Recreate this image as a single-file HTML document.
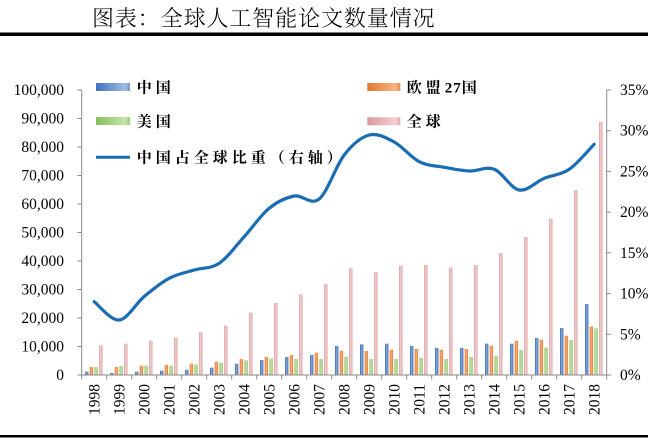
<!DOCTYPE html>
<html><head><meta charset="utf-8"><style>
html,body{margin:0;padding:0;background:#fff;}
svg{display:block;}
.ax{font-family:"Liberation Serif",serif;font-size:15.5px;fill:#000;}
.lg{font-family:"Liberation Serif","Noto Serif CJK SC",serif;font-size:15px;font-weight:700;letter-spacing:4px;fill:#000;}
.tt{font-family:"Noto Serif CJK SC","Noto Sans CJK SC",serif;font-size:22px;font-weight:300;letter-spacing:0.9px;fill:#000;}
</style></head><body>
<svg width="648" height="438" viewBox="0 0 648 438" xmlns="http://www.w3.org/2000/svg">
<defs>
<linearGradient id="gb" x1="0" x2="1" y1="0" y2="0"><stop offset="0" stop-color="#3a6cb4"/><stop offset="0.5" stop-color="#86a8da"/><stop offset="1" stop-color="#3a6cb4"/></linearGradient>
<linearGradient id="go" x1="0" x2="1" y1="0" y2="0"><stop offset="0" stop-color="#e07a36"/><stop offset="0.5" stop-color="#f8ad78"/><stop offset="1" stop-color="#e07a36"/></linearGradient>
<linearGradient id="gg" x1="0" x2="1" y1="0" y2="0"><stop offset="0" stop-color="#8cc265"/><stop offset="0.5" stop-color="#c4e3ad"/><stop offset="1" stop-color="#8cc265"/></linearGradient>
<linearGradient id="gp" x1="0" x2="1" y1="0" y2="0"><stop offset="0" stop-color="#d8979a"/><stop offset="0.5" stop-color="#f4d4d4"/><stop offset="1" stop-color="#d8979a"/></linearGradient>
<linearGradient id="lb" x1="0" x2="1" y1="0" y2="0"><stop offset="0" stop-color="#3d72c0"/><stop offset="0.65" stop-color="#8aa9d9"/><stop offset="0.85" stop-color="#a3bce2"/><stop offset="1" stop-color="#7497cf"/></linearGradient>
<linearGradient id="lo" x1="0" x2="1" y1="0" y2="0"><stop offset="0" stop-color="#e27a34"/><stop offset="0.65" stop-color="#f4a46c"/><stop offset="0.85" stop-color="#f6b587"/><stop offset="1" stop-color="#ea8a4c"/></linearGradient>
<linearGradient id="lg" x1="0" x2="1" y1="0" y2="0"><stop offset="0" stop-color="#86c05d"/><stop offset="0.65" stop-color="#b3da97"/><stop offset="0.85" stop-color="#c4e2ad"/><stop offset="1" stop-color="#9ccd79"/></linearGradient>
<linearGradient id="lp" x1="0" x2="1" y1="0" y2="0"><stop offset="0" stop-color="#d9999b"/><stop offset="0.65" stop-color="#ecc2c3"/><stop offset="0.85" stop-color="#f2d2d2"/><stop offset="1" stop-color="#e0abac"/></linearGradient>
</defs>

<!-- title -->
<text class="tt" x="92" y="26">图表：全球人工智能论文数量情况</text>
<rect x="0" y="32.5" width="648" height="3.5" fill="#000"/>
<rect x="0" y="435" width="648" height="2.5" fill="#000"/>

<!-- bars -->
<g transform="translate(0,375) scale(1,-1)">
<g transform="translate(0,0)"><rect x="85" y="0" width="3.4" height="3.33" fill="url(#gb)"/><rect x="89.7" y="0" width="3.4" height="7.98" fill="url(#go)"/><rect x="94.4" y="0" width="3.4" height="7.98" fill="url(#gg)"/><rect x="99.1" y="0" width="3.4" height="29.64" fill="url(#gp)"/></g>
<g transform="translate(25,0)"><rect x="85" y="0" width="3.4" height="2" fill="url(#gb)"/><rect x="89.7" y="0" width="3.4" height="7.98" fill="url(#go)"/><rect x="94.4" y="0" width="3.4" height="9.01" fill="url(#gg)"/><rect x="99.1" y="0" width="3.4" height="31.35" fill="url(#gp)"/></g>
<g transform="translate(50,0)"><rect x="85" y="0" width="3.4" height="3.33" fill="url(#gb)"/><rect x="89.7" y="0" width="3.4" height="9.35" fill="url(#go)"/><rect x="94.4" y="0" width="3.4" height="9.35" fill="url(#gg)"/><rect x="99.1" y="0" width="3.4" height="34.34" fill="url(#gp)"/></g>
<g transform="translate(75,0)"><rect x="85" y="0" width="3.4" height="4.33" fill="url(#gb)"/><rect x="89.7" y="0" width="3.4" height="9.98" fill="url(#go)"/><rect x="94.4" y="0" width="3.4" height="9.35" fill="url(#gg)"/><rect x="99.1" y="0" width="3.4" height="37.34" fill="url(#gp)"/></g>
<g transform="translate(100,0)"><rect x="85" y="0" width="3.4" height="5.33" fill="url(#gb)"/><rect x="89.7" y="0" width="3.4" height="11.34" fill="url(#go)"/><rect x="94.4" y="0" width="3.4" height="10.35" fill="url(#gg)"/><rect x="99.1" y="0" width="3.4" height="43.04" fill="url(#gp)"/></g>
<g transform="translate(125,0)"><rect x="85" y="0" width="3.4" height="7.32" fill="url(#gb)"/><rect x="89.7" y="0" width="3.4" height="13.34" fill="url(#go)"/><rect x="94.4" y="0" width="3.4" height="12.34" fill="url(#gg)"/><rect x="99.1" y="0" width="3.4" height="49.31" fill="url(#gp)"/></g>
<g transform="translate(150,0)"><rect x="85" y="0" width="3.4" height="11.34" fill="url(#gb)"/><rect x="89.7" y="0" width="3.4" height="15.96" fill="url(#go)"/><rect x="94.4" y="0" width="3.4" height="14.68" fill="url(#gg)"/><rect x="99.1" y="0" width="3.4" height="62.42" fill="url(#gp)"/></g>
<g transform="translate(175,0)"><rect x="85" y="0" width="3.4" height="14.99" fill="url(#gb)"/><rect x="89.7" y="0" width="3.4" height="17.96" fill="url(#go)"/><rect x="94.4" y="0" width="3.4" height="16.33" fill="url(#gg)"/><rect x="99.1" y="0" width="3.4" height="72.11" fill="url(#gp)"/></g>
<g transform="translate(200,0)"><rect x="85" y="0" width="3.4" height="18.01" fill="url(#gb)"/><rect x="89.7" y="0" width="3.4" height="20.01" fill="url(#go)"/><rect x="94.4" y="0" width="3.4" height="15.99" fill="url(#gg)"/><rect x="99.1" y="0" width="3.4" height="80.65" fill="url(#gp)"/></g>
<g transform="translate(225,0)"><rect x="85" y="0" width="3.4" height="20.01" fill="url(#gb)"/><rect x="89.7" y="0" width="3.4" height="22.34" fill="url(#go)"/><rect x="94.4" y="0" width="3.4" height="15.99" fill="url(#gg)"/><rect x="99.1" y="0" width="3.4" height="90.92" fill="url(#gp)"/></g>
<g transform="translate(250,0)"><rect x="85" y="0" width="3.4" height="29.01" fill="url(#gb)"/><rect x="89.7" y="0" width="3.4" height="24.34" fill="url(#go)"/><rect x="94.4" y="0" width="3.4" height="18.01" fill="url(#gg)"/><rect x="99.1" y="0" width="3.4" height="106.88" fill="url(#gp)"/></g>
<g transform="translate(275,0)"><rect x="85" y="0" width="3.4" height="30.67" fill="url(#gb)"/><rect x="89.7" y="0" width="3.4" height="24.0" fill="url(#go)"/><rect x="94.4" y="0" width="3.4" height="15.99" fill="url(#gg)"/><rect x="99.1" y="0" width="3.4" height="102.89" fill="url(#gp)"/></g>
<g transform="translate(300,0)"><rect x="85" y="0" width="3.4" height="31.35" fill="url(#gb)"/><rect x="89.7" y="0" width="3.4" height="25.34" fill="url(#go)"/><rect x="94.4" y="0" width="3.4" height="15.99" fill="url(#gg)"/><rect x="99.1" y="0" width="3.4" height="109.44" fill="url(#gp)"/></g>
<g transform="translate(325,0)"><rect x="85" y="0" width="3.4" height="29.01" fill="url(#gb)"/><rect x="89.7" y="0" width="3.4" height="26.02" fill="url(#go)"/><rect x="94.4" y="0" width="3.4" height="17.33" fill="url(#gg)"/><rect x="99.1" y="0" width="3.4" height="110.01" fill="url(#gp)"/></g>
<g transform="translate(350,0)"><rect x="85" y="0" width="3.4" height="27.02" fill="url(#gb)"/><rect x="89.7" y="0" width="3.4" height="25.34" fill="url(#go)"/><rect x="94.4" y="0" width="3.4" height="15.99" fill="url(#gg)"/><rect x="99.1" y="0" width="3.4" height="107.45" fill="url(#gp)"/></g>
<g transform="translate(375,0)"><rect x="85" y="0" width="3.4" height="27.02" fill="url(#gb)"/><rect x="89.7" y="0" width="3.4" height="26.02" fill="url(#go)"/><rect x="94.4" y="0" width="3.4" height="18.01" fill="url(#gg)"/><rect x="99.1" y="0" width="3.4" height="110.01" fill="url(#gp)"/></g>
<g transform="translate(400,0)"><rect x="85" y="0" width="3.4" height="31.35" fill="url(#gb)"/><rect x="89.7" y="0" width="3.4" height="29.36" fill="url(#go)"/><rect x="94.4" y="0" width="3.4" height="19.35" fill="url(#gg)"/><rect x="99.1" y="0" width="3.4" height="121.98" fill="url(#gp)"/></g>
<g transform="translate(425,0)"><rect x="85" y="0" width="3.4" height="31.35" fill="url(#gb)"/><rect x="89.7" y="0" width="3.4" height="34.34" fill="url(#go)"/><rect x="94.4" y="0" width="3.4" height="25.0" fill="url(#gg)"/><rect x="99.1" y="0" width="3.4" height="137.94" fill="url(#gp)"/></g>
<g transform="translate(450,0)"><rect x="85" y="0" width="3.4" height="37.02" fill="url(#gb)"/><rect x="89.7" y="0" width="3.4" height="35.34" fill="url(#go)"/><rect x="94.4" y="0" width="3.4" height="27.36" fill="url(#gg)"/><rect x="99.1" y="0" width="3.4" height="156.47" fill="url(#gp)"/></g>
<g transform="translate(475,0)"><rect x="85" y="0" width="3.4" height="47.03" fill="url(#gb)"/><rect x="89.7" y="0" width="3.4" height="39.33" fill="url(#go)"/><rect x="94.4" y="0" width="3.4" height="35.06" fill="url(#gg)"/><rect x="99.1" y="0" width="3.4" height="184.97" fill="url(#gp)"/></g>
<g transform="translate(500,0)"><rect x="85" y="0" width="3.4" height="70.97" fill="url(#gb)"/><rect x="89.7" y="0" width="3.4" height="48.45" fill="url(#go)"/><rect x="94.4" y="0" width="3.4" height="46.74" fill="url(#gg)"/><rect x="99.1" y="0" width="3.4" height="253.08" fill="url(#gp)"/></g>
</g>

<!-- axes -->
<g stroke="#8a8a8a" stroke-width="1" fill="none">
<line x1="81.7" y1="90" x2="81.7" y2="375.5"/>
<line x1="606.7" y1="90" x2="606.7" y2="375.5"/>
<line x1="81.2" y1="375" x2="607.2" y2="375"/>
<path d="M77.5 90H81.7M77.5 118.5H81.7M77.5 147H81.7M77.5 175.5H81.7M77.5 204H81.7M77.5 232.5H81.7M77.5 261H81.7M77.5 289.5H81.7M77.5 318H81.7M77.5 346.5H81.7M77.5 375H81.7"/>
<path d="M606.7 90H611M606.7 130.7H611M606.7 171.4H611M606.7 212.1H611M606.7 252.9H611M606.7 293.6H611M606.7 334.3H611M606.7 375H611"/>
<path d="M81.7 375V379.5M106.7 375V379.5M131.7 375V379.5M156.7 375V379.5M181.7 375V379.5M206.7 375V379.5M231.7 375V379.5M256.7 375V379.5M281.7 375V379.5M306.7 375V379.5M331.7 375V379.5M356.7 375V379.5M381.7 375V379.5M406.7 375V379.5M431.7 375V379.5M456.7 375V379.5M481.7 375V379.5M506.7 375V379.5M531.7 375V379.5M556.7 375V379.5M581.7 375V379.5M606.7 375V379.5"/>
</g>

<!-- left labels -->
<g class="ax" text-anchor="end">
<text x="64" y="95">100,000</text>
<text x="64" y="123.5">90,000</text>
<text x="64" y="152">80,000</text>
<text x="64" y="180.5">70,000</text>
<text x="64" y="209">60,000</text>
<text x="64" y="237.5">50,000</text>
<text x="64" y="266">40,000</text>
<text x="64" y="294.5">30,000</text>
<text x="64" y="323">20,000</text>
<text x="64" y="351.5">10,000</text>
<text x="64" y="380">0</text>
</g>
<!-- right labels -->
<g class="ax">
<text x="620" y="95">35%</text>
<text x="620" y="135.7">30%</text>
<text x="620" y="176.4">25%</text>
<text x="620" y="217.1">20%</text>
<text x="620" y="257.9">15%</text>
<text x="620" y="298.6">10%</text>
<text x="620" y="339.3">5%</text>
<text x="620" y="380">0%</text>
</g>
<!-- year labels -->
<g class="ax" text-anchor="end">
<text transform="translate(99.7,384) rotate(-90)">1998</text>
<text transform="translate(124.7,384) rotate(-90)">1999</text>
<text transform="translate(149.7,384) rotate(-90)">2000</text>
<text transform="translate(174.7,384) rotate(-90)">2001</text>
<text transform="translate(199.7,384) rotate(-90)">2002</text>
<text transform="translate(224.7,384) rotate(-90)">2003</text>
<text transform="translate(249.7,384) rotate(-90)">2004</text>
<text transform="translate(274.7,384) rotate(-90)">2005</text>
<text transform="translate(299.7,384) rotate(-90)">2006</text>
<text transform="translate(324.7,384) rotate(-90)">2007</text>
<text transform="translate(349.7,384) rotate(-90)">2008</text>
<text transform="translate(374.7,384) rotate(-90)">2009</text>
<text transform="translate(399.7,384) rotate(-90)">2010</text>
<text transform="translate(424.7,384) rotate(-90)">2011</text>
<text transform="translate(449.7,384) rotate(-90)">2012</text>
<text transform="translate(474.7,384) rotate(-90)">2013</text>
<text transform="translate(499.7,384) rotate(-90)">2014</text>
<text transform="translate(524.7,384) rotate(-90)">2015</text>
<text transform="translate(549.7,384) rotate(-90)">2016</text>
<text transform="translate(574.7,384) rotate(-90)">2017</text>
<text transform="translate(599.7,384) rotate(-90)">2018</text>
</g>

<!-- share line -->
<path fill="none" stroke="#1a6db4" stroke-width="3.2" stroke-linejoin="round" stroke-linecap="round" d="M94.2,301.7 C98.4,304.75 110.9,320.87 119.2,320 C127.5,319.13 135.9,303.45 144.2,296.5 C152.5,289.55 160.9,282.72 169.2,278.3 C177.5,273.88 185.9,272.5 194.2,270 C202.5,267.5 210.9,268.85 219.2,263.3 C227.5,257.75 235.9,245.87 244.2,236.7 C252.5,227.53 260.9,215.08 269.2,208.3 C277.5,201.52 285.9,197.55 294.2,196 C302.5,194.45 310.9,205.83 319.2,199 C327.5,192.17 335.9,165.67 344.2,155 C352.5,144.33 360.9,137.17 369.2,135 C377.5,132.83 385.9,137.55 394.2,142 C402.5,146.45 410.9,157.48 419.2,161.7 C427.5,165.92 435.9,165.75 444.2,167.3 C452.5,168.85 460.9,170.67 469.2,171 C477.5,171.33 485.9,166.13 494.2,169.3 C502.5,172.47 510.9,188.5 519.2,190 C527.5,191.5 535.9,181.75 544.2,178.3 C552.5,174.85 560.9,174.97 569.2,169.3 C577.5,163.63 590.0,148.47 594.2,144.3"/>

<!-- legend -->
<rect x="96" y="83" width="34" height="8" fill="url(#lb)"/>
<text class="lg" x="136.7" y="92.4">中国</text>
<rect x="96" y="117" width="34" height="8" fill="url(#lg)"/>
<text class="lg" x="136.7" y="126.7">美国</text>
<line x1="96" y1="157.3" x2="130" y2="157.3" stroke="#1a6db4" stroke-width="3"/>
<text class="lg" x="136.7" y="162.7" letter-spacing="4.5px">中国占全球比重（右轴）</text>
<rect x="367.3" y="83" width="33" height="8" fill="url(#lo)"/>
<text class="lg" x="406.7" y="92.4">欧盟<tspan letter-spacing="1px">27</tspan>国</text>
<rect x="367.3" y="117.3" width="33" height="8" fill="url(#lp)"/>
<text class="lg" x="406.7" y="126.7">全球</text>
</svg>
</body></html>
